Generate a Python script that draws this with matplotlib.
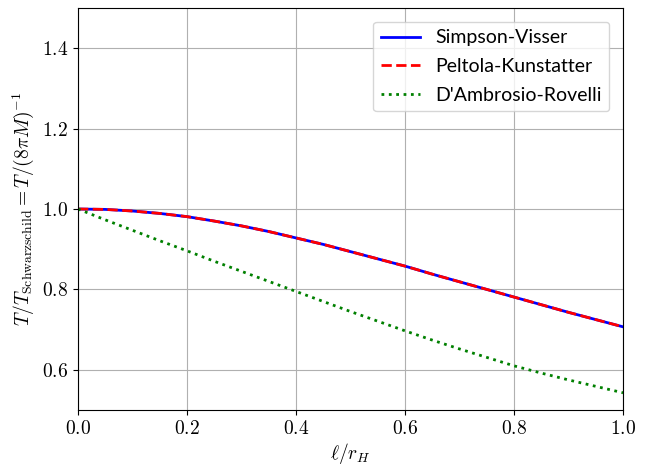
import matplotlib
matplotlib.use("Agg")
import matplotlib.pyplot as plt

# values
ell = [0.00, 0.05, 0.10, 0.15, 0.20, 0.25, 0.30, 0.35, 0.40, 0.45, 0.50,
       0.55, 0.60, 0.65, 0.70, 0.75, 0.80, 0.85, 0.90, 0.95, 1.00]
T_sv = [1.000, 0.999, 0.995, 0.989, 0.981, 0.970, 0.958, 0.944, 0.928, 0.912, 0.894,
        0.876, 0.858, 0.838, 0.819, 0.800, 0.781, 0.762, 0.743, 0.725, 0.707]
T_pk = [1.000, 0.999, 0.995, 0.989, 0.981, 0.970, 0.958, 0.944, 0.928, 0.912, 0.894,
        0.876, 0.858, 0.838, 0.819, 0.800, 0.781, 0.762, 0.743, 0.725, 0.707]
T_dr = [1.000, 0.973, 0.947, 0.921, 0.896, 0.870, 0.845, 0.820, 0.795, 0.770, 0.745,
        0.721, 0.697, 0.674, 0.652, 0.631, 0.610, 0.592, 0.575, 0.559, 0.543]

plt.rcParams['mathtext.fontset'] = 'cm'
plt.rcParams['font.family'] = 'serif'
plt.rcParams['font.serif'] = ['cmr10']
plt.rcParams['axes.formatter.use_mathtext'] = True

fig = plt.figure(figsize=(6.47, 4.66), dpi=100)
ax = fig.add_axes([0.1206, 0.12, 0.8424, 0.863])

ax.plot(ell, T_sv, 'b-', lw=2, label='Simpson-Visser')
ax.plot(ell, T_pk, 'r--', lw=2, label='Peltola-Kunstatter')
ax.plot(ell, T_dr, 'g:', lw=2, label="D'Ambrosio-Rovelli")

ax.set_xlim(0, 1)
ax.set_ylim(0.5, 1.5)
ax.set_xticks([0.0, 0.2, 0.4, 0.6, 0.8, 1.0])
ax.set_yticks([0.6, 0.8, 1.0, 1.2, 1.4])
ax.tick_params(labelsize=14)
ax.grid(True)
ax.set_xlabel(r'$\ell/r_H$', fontsize=14, labelpad=2)
ax.set_ylabel(r'$T/T_{\rm Schwarzschild} = T/(8\pi M)^{-1}$', fontsize=14)
ax.legend(loc='upper right', prop={'family': 'Lato', 'size': 14},
          labelspacing=0.6, borderaxespad=0.7)

fig.savefig('out.png', dpi=100)
